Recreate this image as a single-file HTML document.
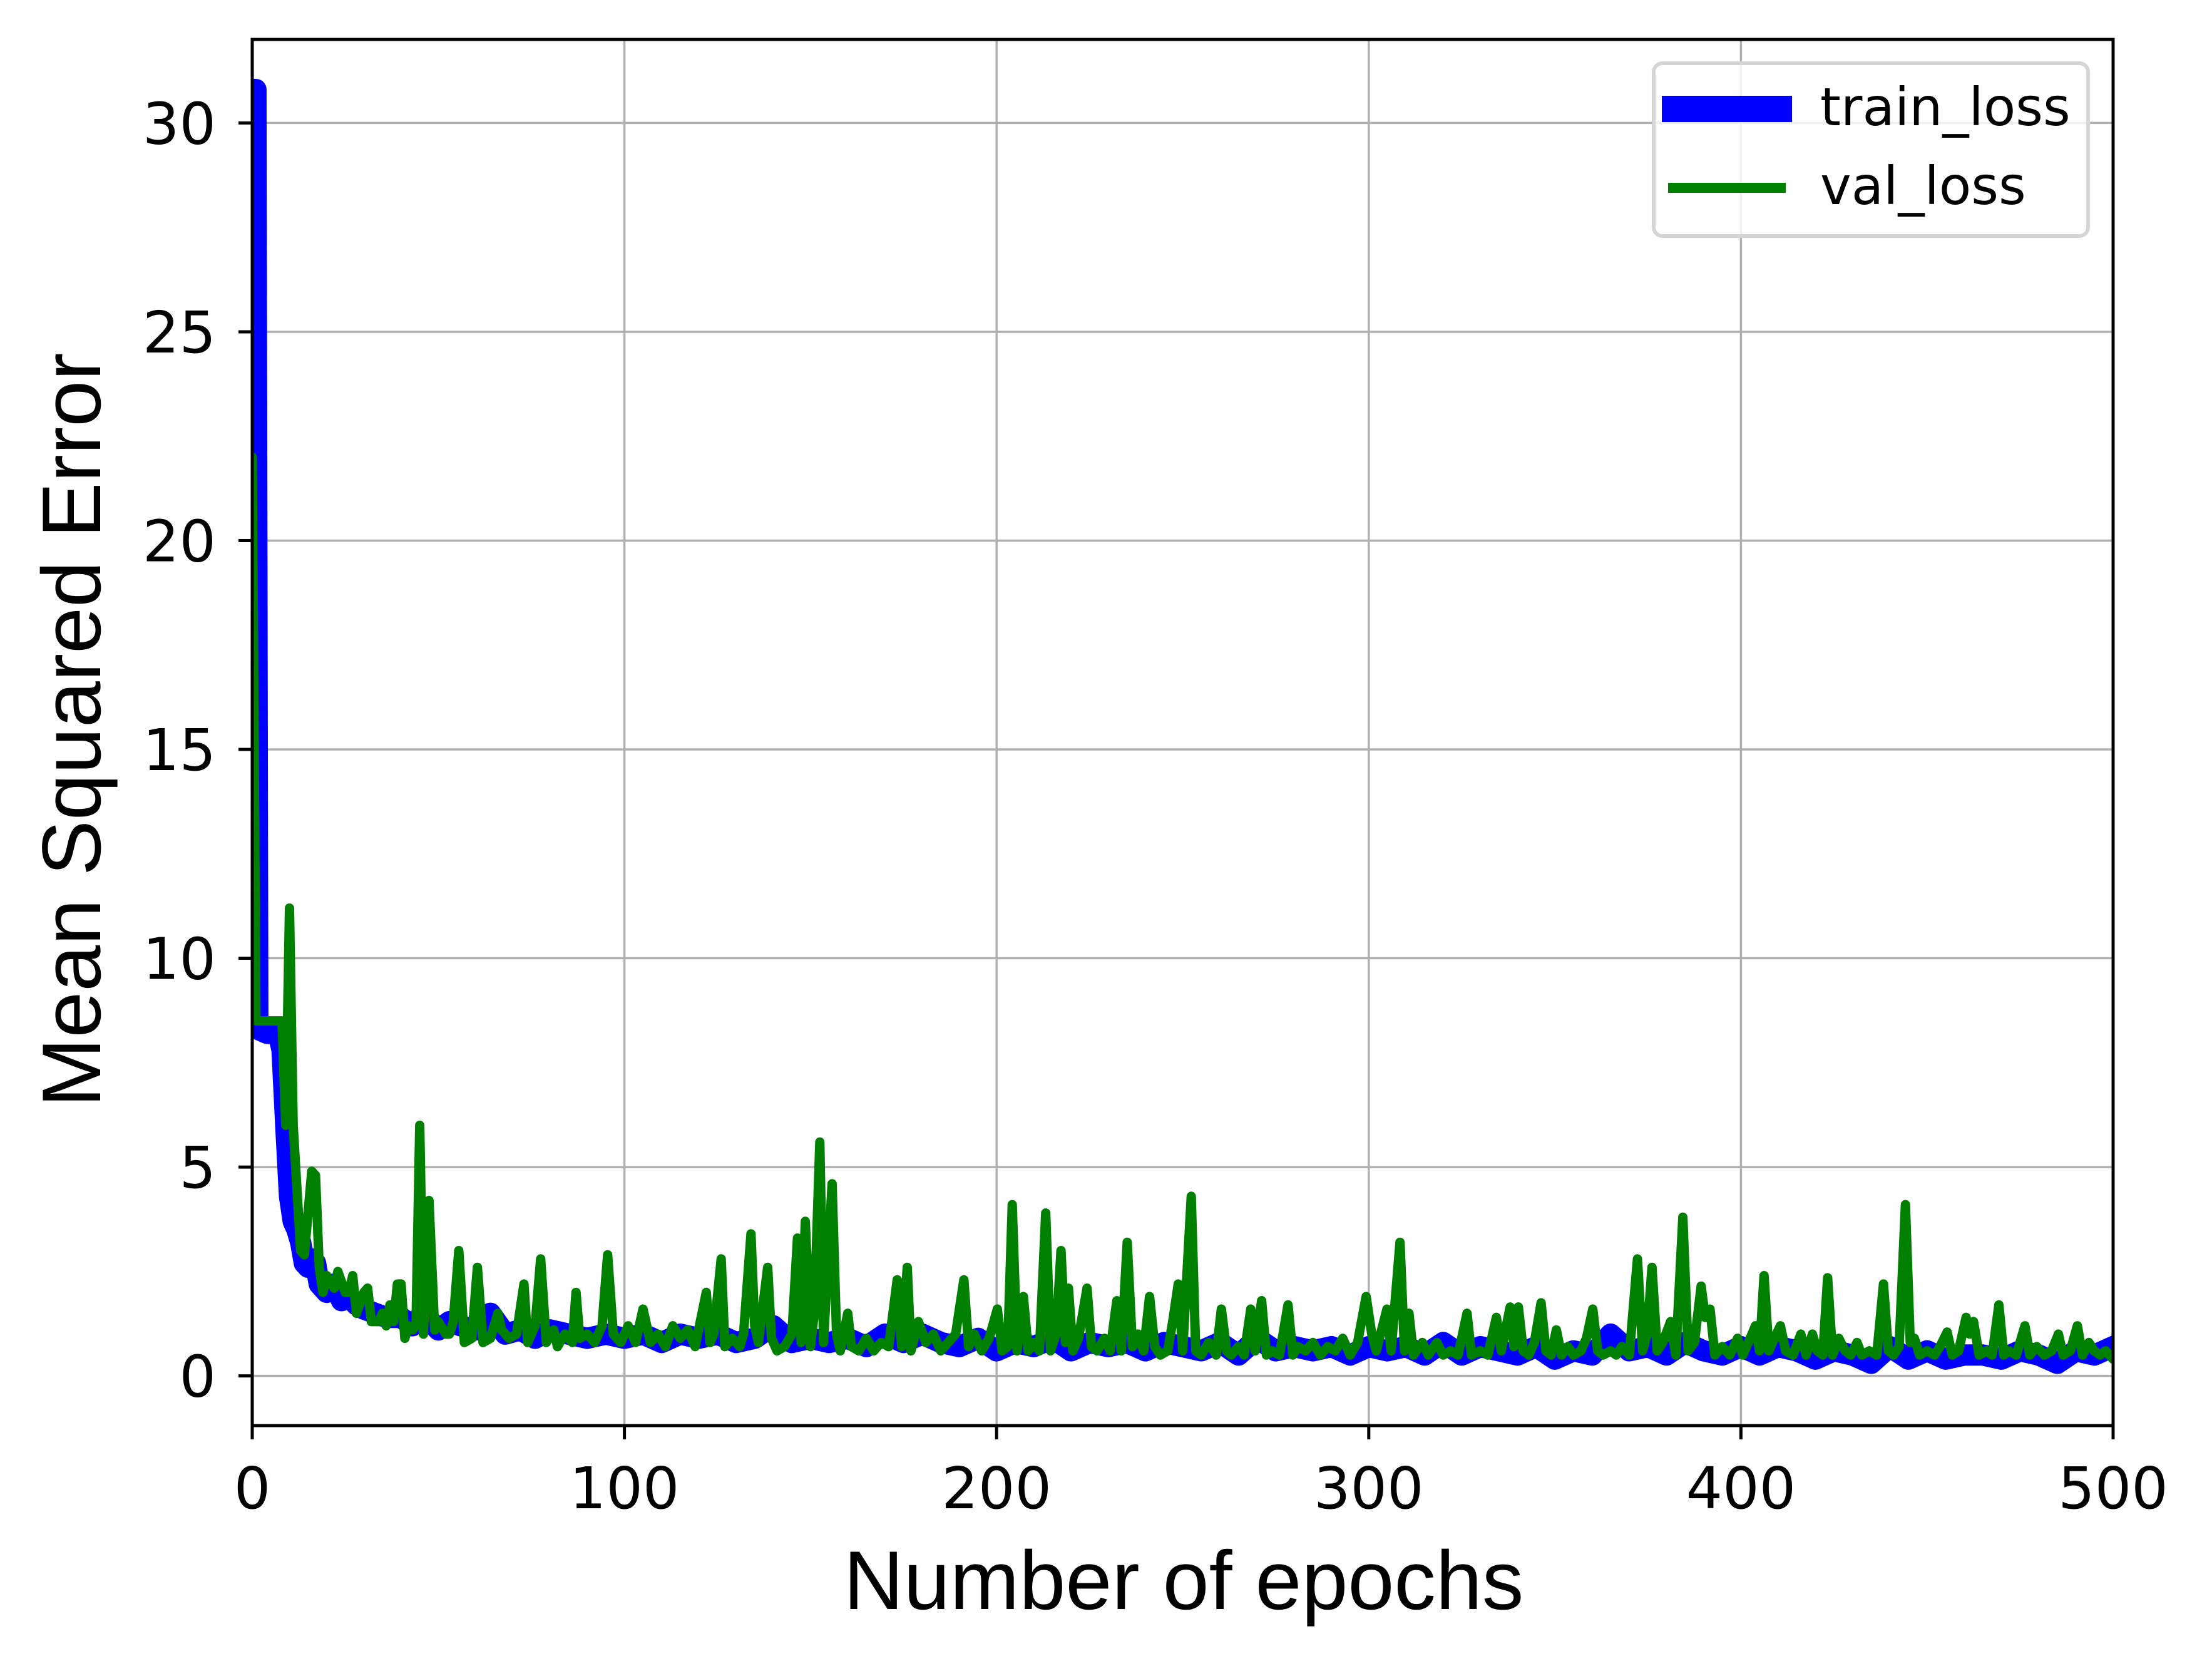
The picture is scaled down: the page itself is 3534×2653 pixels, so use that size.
<!DOCTYPE html>
<html><head><meta charset="utf-8"><style>
html,body{margin:0;padding:0;background:#fff}
svg{display:block}
text{font-family:"DejaVu Sans","Liberation Sans",sans-serif}
</style></head><body>
<svg id="chart" width="3534" height="2653" viewBox="0 0 3534 2653" xmlns="http://www.w3.org/2000/svg">
<rect width="3534" height="2653" fill="#fff"/>
<g id="grid"></g>
<g id="series"></g>
<g id="axes"></g>
<text x="1891" y="2570" font-size="133" text-anchor="middle" style="font-family:'Liberation Sans',sans-serif">Number of epochs</text>
<text transform="translate(160,1166) rotate(-90)" font-size="133" text-anchor="middle" style="font-family:'Liberation Sans',sans-serif">Mean Squared Error</text>
<g>
<rect x="2642" y="101" width="694" height="276" rx="14" fill="#fff" fill-opacity="0.8" stroke="#d5d5d5" stroke-width="6"/>
<rect x="2655" y="153" width="208" height="42" fill="#0000ff"/>
<text x="2908" y="200" font-size="84">train_loss</text>
<rect x="2665" y="292" width="188" height="16" fill="#008000"/>
<text x="2908" y="326" font-size="84">val_loss</text>
</g>
</svg>
<script>
const xTicks=[0,100,200,300,400,500];
const yTicks=[0,5,10,15,20,25,30];
const trainEpochs=[0,1,1.5,4,7,8,9,10,11,12,13,14,15,16,17,18,20,22,24,26,28,30,33,36,40,43,46,50,53,56,60,64,68,72,76,80,85,90,95,100,105,110,115,120,125,130,135,140,145,150,155,160,165,170,175,180,185,190,195,200,205,210,215,220,225,230,235,240,245,250,255,260,265,270,275,280,285,290,295,300,305,310,315,320,325,330,335,340,345,350,355,360,365,370,375,380,385,390,395,400,405,410,415,420,425,430,435,440,445,450,455,460,465,470,475,480,485,490,495,500];
const trainLoss=[30.8,30.8,8.3,8.2,8.2,7.8,6.0,4.3,3.7,3.5,3.2,2.7,2.6,2.8,2.7,2.2,2.0,2.2,1.8,1.9,1.7,1.6,1.5,1.4,1.4,1.2,1.5,1.1,1.3,1.2,1.1,1.5,1.0,1.1,0.9,1.1,1.0,0.9,1.0,0.9,1.0,0.8,1.0,0.9,1.0,0.8,0.9,1.2,0.8,0.9,0.8,0.9,0.7,1.0,0.8,1.0,0.8,0.7,0.9,0.6,0.8,0.7,0.9,0.6,0.8,0.7,0.8,0.6,0.8,0.7,0.6,0.8,0.5,0.9,0.6,0.7,0.6,0.7,0.5,0.7,0.6,0.7,0.5,0.8,0.5,0.7,0.6,0.5,0.7,0.4,0.6,0.5,1.0,0.6,0.7,0.5,0.8,0.6,0.5,0.7,0.5,0.7,0.6,0.4,0.6,0.5,0.3,0.7,0.4,0.6,0.4,0.5,0.5,0.4,0.6,0.5,0.3,0.6,0.5,0.7,0.4];
const valPoints=[[0,22.0],[1,8.5],[8,8.5],[9,6.0],[10,11.2],[11,6.0],[13,3.0],[14,2.9],[16,4.9],[17,4.8],[18,2.6],[19,2.0],[20,2.4],[22,2.1],[23,2.5],[25,2.0],[26,2.0],[27,2.4],[28,1.5],[30,2.0],[31,2.1],[32,1.3],[34,1.3],[35,1.5],[36,1.2],[37,1.7],[38,1.3],[39,2.2],[40,2.2],[41,0.9],[42,1.2],[43,1.1],[44,1.2],[45,6.0],[46,1.0],[47.5,4.2],[49,1.1],[50,1.3],[52,1.0],[53,1.0],[54,1.3],[55.5,3.0],[57,0.8],[59,0.9],[60.5,2.6],[62,0.8],[64,0.9],[65,1.2],[66,1.5],[67,1.1],[69,0.9],[71,1.0],[73,2.2],[74,0.8],[76,1.2],[77.5,2.8],[79,0.8],[81,1.1],[82,0.7],[84,1.0],[86,0.8],[87,2.0],[88,0.9],[90,1.0],[92,0.8],[94,1.2],[95.5,2.9],[97,1.0],[99,0.8],[101,1.2],[103,0.8],[105,1.6],[107,0.8],[109,1.0],[111,0.7],[113,1.2],[115,0.9],[117,1.1],[119,0.7],[122,2.0],[123,0.8],[124,1.0],[126,2.8],[127,0.7],[129,0.9],[131,0.7],[132,1.0],[134,3.4],[135,1.2],[136,0.8],[138.5,2.6],[139.5,0.9],[141,0.6],[143,0.7],[145,1.0],[146.5,3.3],[147.5,0.8],[148.6,3.7],[150,0.7],[151,1.5],[152.5,5.6],[153.5,0.8],[155.8,4.6],[157,1.0],[158,0.6],[160,1.5],[161,0.7],[163,0.6],[165,0.9],[167,0.6],[169,0.8],[171,0.7],[173.3,2.3],[174.5,0.7],[176,2.6],[177,0.6],[179,1.3],[181,0.8],[183,1.0],[185,0.6],[187,0.8],[189,1.0],[191.2,2.3],[192.5,0.7],[194,1.0],[196,0.6],[198,0.9],[200.2,1.6],[201.5,0.6],[203,0.7],[204.2,4.1],[205.5,0.6],[207.2,1.9],[208.5,0.6],[210,0.8],[211.5,0.6],[213.2,3.9],[214.5,0.6],[216,1.0],[217.3,3.0],[218.5,0.8],[219.3,2.1],[220.5,0.6],[222,0.9],[224.3,2.1],[225.5,0.7],[227,0.6],[229,0.9],[230.5,0.6],[232.3,1.8],[233.5,0.6],[235.1,3.2],[236.5,0.7],[238,1.0],[239.5,0.6],[241.1,1.9],[242.5,0.7],[244,0.5],[246,0.6],[247.5,1.4],[248.8,2.2],[250,0.6],[252.3,4.3],[253.5,0.6],[255,0.5],[257,0.8],[259,0.5],[260.4,1.6],[261.8,0.6],[263,0.5],[265,0.7],[266.5,0.5],[268.3,1.6],[269.5,0.6],[271.2,1.8],[272.5,0.5],[274,0.6],[276,0.5],[278.3,1.7],[279.6,0.5],[281,0.7],[283,0.6],[285,0.8],[287,0.5],[289,0.7],[291,0.6],[293,0.9],[295,0.5],[297,0.8],[299.3,1.9],[300.8,1.0],[302,0.6],[304.9,1.6],[306,0.6],[308.4,3.2],[309.6,0.6],[310.8,1.5],[312,0.5],[314.4,0.8],[316,0.5],[318.3,0.8],[320,0.5],[322,0.6],[324,0.5],[326.4,1.5],[327.6,0.5],[330,0.6],[332,0.5],[334.3,1.4],[335.6,0.6],[338,1.65],[339,0.7],[340.2,1.65],[341.5,0.6],[343,0.5],[344.5,0.8],[346.3,1.75],[347.6,0.6],[349,0.5],[350.4,1.1],[351.8,0.5],[353.5,0.7],[355,0.5],[357,0.6],[358.5,0.9],[360.2,1.6],[361.5,0.6],[363,0.5],[365,0.6],[366.5,0.5],[368,0.7],[370,0.5],[372.2,2.8],[373.6,0.6],[374.8,1.0],[376.1,2.6],[377.5,0.6],[379,0.8],[381.1,1.3],[382.5,0.5],[384.4,3.8],[385.8,0.6],[387.5,0.8],[389.3,2.15],[390.4,1.4],[391.7,1.6],[393,0.5],[395,0.7],[397,0.5],[399.1,0.9],[400.5,0.5],[402,0.8],[403.9,1.2],[405,0.6],[406.2,2.4],[407.5,0.6],[409,0.9],[410.6,1.2],[412,0.6],[414,0.5],[416.1,1.0],[417.5,0.5],[419.2,1.0],[420.5,0.6],[422,0.5],[423.3,2.35],[424.6,0.5],[426.3,0.9],[428,0.6],[429.5,0.5],[431.2,0.8],[432.5,0.5],[434.5,0.6],[436.5,0.5],[438.3,2.2],[439.6,0.6],[441,0.5],[442.5,0.7],[444.2,4.1],[445.5,0.8],[446.6,0.9],[448,0.5],[450,0.6],[452,0.5],[453.5,0.7],[455.4,1.05],[456.8,0.5],[458.5,0.6],[460.5,1.4],[461.5,1.0],[462.5,1.3],[464,0.5],[466,0.6],[467.5,0.5],[469.3,1.7],[470.6,0.5],[472,0.6],[474,0.5],[476.3,1.2],[477.6,0.5],[479.5,0.7],[481.5,0.5],[483.5,0.6],[485.3,1.0],[486.6,0.5],[488.5,0.6],[490.4,1.2],[491.8,0.5],[493.5,0.8],[494.9,0.6],[496.5,0.5],[498,0.6],[500,0.4]];
const valEpochs=valPoints.map(p=>p[0]);
const valLoss=valPoints.map(p=>p[1]);

const X0=403,X1=3376,Y0=2277,Y1=63,XMIN=0,XMAX=500,YMIN=-1.19,YMAX=32.0;
const NS='http://www.w3.org/2000/svg';
function sx(v){return X0+(v-XMIN)/(XMAX-XMIN)*(X1-X0);}
function sy(v){return Y0-(v-YMIN)/(YMAX-YMIN)*(Y0-Y1);}
function mk(tag,attrs,parent){const e=document.createElementNS(NS,tag);for(const k in attrs)e.setAttribute(k,attrs[k]);parent.appendChild(e);return e;}
const grid=document.getElementById('grid'),axes=document.getElementById('axes'),series=document.getElementById('series');
xTicks.forEach(t=>{
  const g=mk('line',{x1:sx(t),x2:sx(t),y1:Y1,y2:Y0,stroke:'#b0b0b0','stroke-width':3.5},grid);
  
  
  const tk=mk('line',{x1:sx(t),x2:sx(t),y1:Y0,y2:Y0+22,stroke:'#000','stroke-width':5},axes);
  
  
  const tx=mk('text',{x:sx(t),y:Y0+132,'font-size':92,'text-anchor':'middle'},axes);
  tx.textContent=t;
  
  
});
yTicks.forEach(t=>{
  const g=mk('line',{x1:X0,x2:X1,y1:sy(t),y2:sy(t),stroke:'#b0b0b0','stroke-width':3.5},grid);
  
  
  const tk=mk('line',{x1:X0-22,x2:X0,y1:sy(t),y2:sy(t),stroke:'#000','stroke-width':5},axes);
  
  
  const tx=mk('text',{x:X0-58,y:sy(t)+33,'font-size':92,'text-anchor':'end'},axes);
  tx.textContent=t;
  
  
});
const clip=mk('clipPath',{id:'pc'},series);
mk('rect',{x:X0,y:Y1,width:X1-X0,height:Y0-Y1},clip);
function path(xs,ys){return xs.map((x,i)=>(i?'L':'M')+sx(x).toFixed(1)+' '+sy(ys[i]).toFixed(1)).join(' ');}
const tp=mk('path',{d:path(trainEpochs,trainLoss),fill:'none',stroke:'#0000ff','stroke-width':34,'stroke-linejoin':'round','stroke-linecap':'square','clip-path':'url(#pc)'},series);


const vp=mk('path',{d:path(valEpochs,valLoss),fill:'none',stroke:'#008000','stroke-width':15,'stroke-linejoin':'round','stroke-linecap':'round','clip-path':'url(#pc)'},series);


const fr=mk('rect',{x:X0,y:Y1,width:X1-X0,height:Y0-Y1,fill:'none',stroke:'#000','stroke-width':5},axes);


</script>
</body></html>
